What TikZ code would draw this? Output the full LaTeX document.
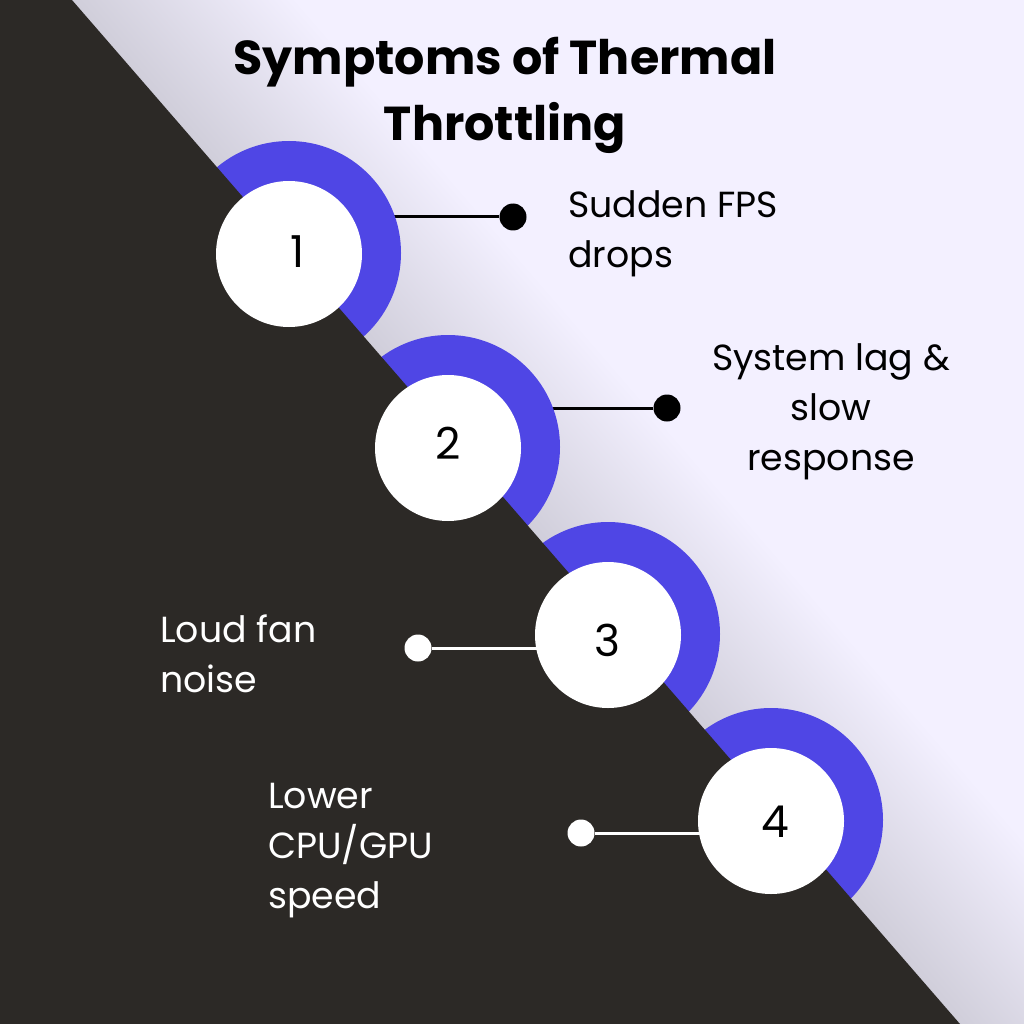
\documentclass[tikz,border=0pt]{standalone}
\usepackage{fontspec}
\setmainfont{Poppins}
\usetikzlibrary{positioning}
\definecolor{paper}{HTML}{F3F0FF}
\definecolor{haze}{HTML}{D0CEDA}
\definecolor{slab}{HTML}{2C2926}
\definecolor{ringblue}{HTML}{4F46E5}
\tikzset{
  ring/.style={circle,fill=ringblue,minimum size=224pt,inner sep=0pt},
  disc/.style={circle,fill=white,minimum size=146pt,inner sep=0pt,yshift=-1pt},
  dot/.style={circle,minimum size=27pt,inner sep=0pt},
  num/.style={font=\fontsize{44}{44}\selectfont,inner sep=0pt},
  body/.style={font=\fontsize{36.3}{50}\selectfont,inner sep=0pt},
  headline/.style={font=\fontsize{47.6}{66}\selectfont\bfseries,align=center,inner sep=0pt}
}
\begin{document}
\begin{tikzpicture}[x=1pt,y=-1pt]
        \useasboundingbox (0,0) rectangle (1024,1024);
        \fill[paper] (0,0) rectangle (1024,1024);
        % soft shadow along the slope
        \begin{scope}
        \clip (72,0) -- (1024,0) -- (1024,1024) -- (960,1024) -- cycle;
        \begin{scope}[transform canvas={shift={(72pt,0pt)},rotate=-49.1}]
        \shade[top color=paper,bottom color=haze] (-200,-170) rectangle (1600,0);
        \end{scope}
        \end{scope}

        % rings
        \foreach \i/\x/\y in {1/289/253,2/448/447,3/608/634,4/771/820}
        \coordinate (c\i) at (\x,\y);

        \node[dot,fill=black] (dot1) at (513,217) {};
        \node[dot,fill=black] (dot2) at (667,408) {};
        \draw[line width=3pt,black] (dot1) -- (dot1 -| c1);
        \draw[line width=3pt,black] (dot2) -- (dot2 -| c2);

        \foreach \i in {1,2,3,4}
        \node[ring] (ring\i) at (c\i) {};

        \fill[slab] (72,0) -- (960,1024) -- (0,1024) -- (0,0) -- cycle;

        \node[dot,fill=white] (dot3) at (418,648) {};
        \node[dot,fill=white] (dot4) at (581,833) {};
        \draw[line width=3pt,white] (dot3) -- (dot3 -| c3);
        \draw[line width=3pt,white] (dot4) -- (dot4 -| c4);

        \foreach \i in {1,2,3,4}
        \node[disc] (disc\i) at (c\i) {};

        % numbers sit a little off centre
        \node[num] (num1) at (298,252) {1};
        \node[num] (num2) at (448,443) {2};
        \node[num] (num3) at (607,640) {3};
        \node[num] (num4) at (775,822) {4};

        \node[headline] (title) at (505,95) {Symptoms of Thermal\\Throttling};

        \node[body,align=left,anchor=west] (lab1) at (568,234) {Sudden FPS\\drops};
        \node[body,align=center] (lab2) at (831,412) {System lag \&\\slow\\response};
        \node[body,align=left,anchor=west,white] (lab3) at (160,654) {Loud fan\\noise};
        \node[body,align=left,anchor=west,white] (lab4) at (268,851) {Lower\\CPU/GPU\\speed};
\end{tikzpicture}
\end{document}
